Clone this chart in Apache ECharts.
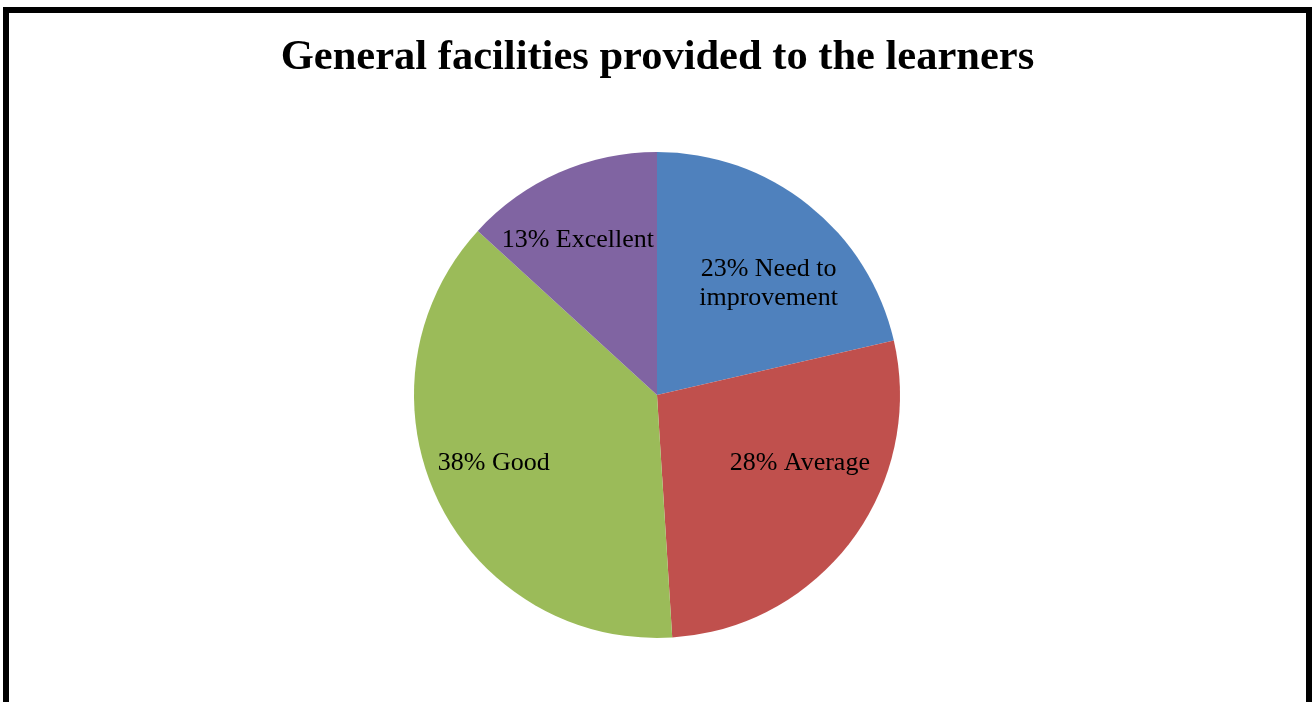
<!DOCTYPE html>
<html>
<head>
<meta charset="utf-8">
<script src="https://cdn.jsdelivr.net/npm/echarts@6/dist/echarts.min.js"></script>
<style>
html,body{margin:0;padding:0;background:#fff;}
#chart{width:1315px;height:702px;}
</style>
</head>
<body>
<div id="chart"></div>
<script>
const titleText = 'General facilities provided to the learners';
const categories = ['Need to\nimprovement', 'Average', 'Good', 'Excellent'];
const values = [21.4, 27.6, 37.8, 13.2];
const percentLabels = ['23%', '28%', '38%', '13%'];
const colors = ['#4F81BD', '#C0504D', '#9BBB59', '#8064A2'];
const labelOffsets = [[34, -14], [43, -6], [-51, 14], [-29, -41]];

const chart = echarts.init(document.getElementById('chart'), null, {renderer: 'canvas'});
const data = categories.map((c, i) => ({
  name: c,
  value: values[i],
  itemStyle: {color: colors[i]},
  label: {offset: labelOffsets[i]}
}));
chart.setOption({
  backgroundColor: '#fff',
  animation: false,
  title: {
    text: titleText,
    left: 'center',
    top: 32,
    textStyle: {fontFamily: 'Liberation Serif', fontWeight: 'bold', fontSize: 42.5, color: '#000'}
  },
  graphic: [{
    type: 'rect',
    shape: {x: 6, y: 10, width: 1303, height: 800},
    style: {fill: 'none', stroke: '#000', lineWidth: 6},
    silent: true
  }],
  series: [{
    type: 'pie',
    center: [657, 395],
    radius: 243,
    startAngle: 90,
    clockwise: true,
    data: data,
    itemStyle: {borderWidth: 0},
    emphasis: {disabled: true},
    label: {
      show: true,
      position: 'inside',
      fontFamily: 'Liberation Serif',
      fontSize: 26,
      lineHeight: 29,
      color: '#000',
      align: 'center',
      formatter: p => percentLabels[p.dataIndex] + ' ' + p.name
    },
    labelLine: {show: false}
  }]
});
</script>
</body>
</html>
